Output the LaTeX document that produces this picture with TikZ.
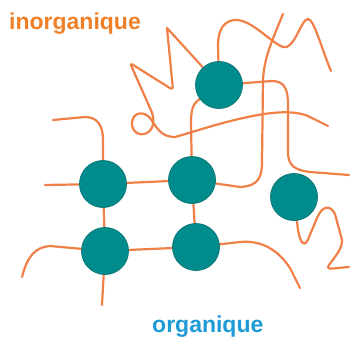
\documentclass[tikz,border=0pt]{standalone}
\usepackage{fontspec}
\usepackage{xcolor}
\usepackage{tikz}
\usetikzlibrary{backgrounds}
\newfontfamily\labelfont{Liberation Sans}
\definecolor{atomteal}{RGB}{0,140,140}
\definecolor{atomedge}{RGB}{12,118,118}
\definecolor{chainorange}{RGB}{240,128,72}
\definecolor{inorgorange}{RGB}{240,128,40}
\definecolor{orgblue}{RGB}{30,155,215}

\begin{document}
\begin{tikzpicture}[x=1pt, y=-1pt,
  atom/.style={circle, draw=atomedge, line width=0.8pt, fill=atomteal,
               minimum size=47pt, inner sep=0pt},
  chain/.style={draw=chainorange, line width=2.2pt, line cap=round, line join=round},
  tag/.style={anchor=base west, inner sep=0pt, font=\labelfont\bfseries\fontsize{23}{27}\selectfont}]

  \useasboundingbox (0,0) rectangle (350,337);

  %% labels
  \node[tag, text=inorgorange] (inorg) at (9,30)   {inorganique};
  \node[tag, text=orgblue]     (org)   at (152,332) {organique};

  %% inorganic clusters
  \node[atom] (top)   at (219,85)  {};
  \node[atom] (right) at (294,197) {};

  %% organic grid
  \node[atom] (g11) at (103,184) {};
  \node[atom] (g12) at (192,180) {};
  \node[atom] (g21) at (105,251) {};
  \node[atom] (g22) at (196,247) {};

  %% free ends of the chains
  \coordinate (e1) at (45,185);
  \coordinate (e2) at (283,14);
  \coordinate (e3) at (349,175);
  \coordinate (e4) at (331,71);
  \coordinate (e5) at (328,126);
  \coordinate (e6) at (53,120);
  \coordinate (e7) at (102,305);
  \coordinate (e8) at (22,277);
  \coordinate (e9) at (300,288);
  \coordinate (e10) at (349,267);

  \begin{pgfonlayer}{background}
    %% grid
    \draw[chain] (e1) -- (g11) -- (g12);
    \draw[chain] (g11) -- (g21) -- (e7);
    \draw[chain] (g21) -- (g22);
    \draw[chain] (g12) -- (g22);
    \draw[chain] (g11) -- (103,140) .. controls (103,125) and (97,117) .. (85,117) -- (e6);
    \draw[chain] (g21) -- (50,246) .. controls (35,247) and (27,257) .. (e8);
    \draw[chain] (g22) -- (240,242) .. controls (262,240) and (278,250) .. (290,268) -- (e9);

    %% links to the clusters
    \draw[chain] (g12) -- (191,122) .. controls (191,108) and (194,103) .. (top);
    \draw[chain] (g12) -- (240,187) .. controls (258,186) and (262,178) .. (262,162)
                       -- (263,80) .. controls (264,60) and (270,45) .. (e2);
    \draw[chain] (top) -- (272,81) .. controls (285,81) and (288,90) .. (288,105)
                       -- (288,152) .. controls (288,166) and (295,170) .. (310,172) -- (e3);
    \draw[chain] (top) -- (218,45) .. controls (218,30) and (224,20) .. (236,20)
                       .. controls (252,20) and (270,42) .. (283,47)
                       .. controls (294,51) and (301,19) .. (308,19)
                       .. controls (314,19) and (322,50) .. (e4);
    \draw[chain] (top) -- (167,28)
                       [rounded corners=3pt] -- (173,90) -- (130,63) [sharp corners]
                       -- (150,108) .. controls (155,118) and (155,128) .. (147,133)
                       .. controls (139,137) and (131,131) .. (132,122)
                       .. controls (133,113) and (143,110) .. (150,118)
                       .. controls (156,126) and (160,137) .. (175,137)
                       .. controls (200,130) and (225,121) .. (258,115)
                       .. controls (280,111) and (300,111) .. (312,118) -- (e5);
    \draw[chain] (right) -- (298,230) .. controls (300,243) and (305,249) .. (309,237)
                         -- (317,218) .. controls (322,206) and (330,204) .. (335,214)
                         -- (342,240) .. controls (343,250) and (330,262) .. (328,267)
                         .. controls (327,270) and (335,268) .. (e10);
  \end{pgfonlayer}
\end{tikzpicture}
\end{document}
